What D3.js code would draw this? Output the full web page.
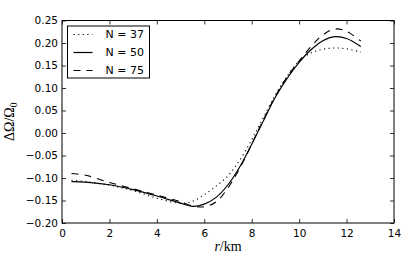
<!DOCTYPE html>
<html>
<head>
<meta charset="utf-8">
<script src="https://cdn.jsdelivr.net/npm/d3@7"></script>
<style>
  body { margin: 0; background: #fff; }
  svg { display: block; }
</style>
</head>
<body>
<div id="grafico"></div>
<script>
// radio en km
const radios = [0.4, 1, 2, 3, 4, 5, 5.5, 6, 6.5, 7, 7.5, 8, 8.5, 9, 9.5, 10, 10.5, 11, 11.5, 12, 12.6];
const n37 = [-0.105, -0.108, -0.116, -0.128, -0.145, -0.156, -0.152, -0.137, -0.118, -0.095, -0.060, -0.015, 0.035, 0.085, 0.127, 0.160, 0.178, 0.186, 0.189, 0.187, 0.180];
const n50 = [-0.108, -0.109, -0.115, -0.126, -0.140, -0.156, -0.163, -0.158, -0.143, -0.115, -0.075, -0.025, 0.028, 0.080, 0.122, 0.157, 0.185, 0.205, 0.214, 0.210, 0.192];
const n75 = [-0.090, -0.094, -0.110, -0.124, -0.138, -0.153, -0.162, -0.164, -0.153, -0.122, -0.078, -0.025, 0.030, 0.082, 0.125, 0.160, 0.192, 0.218, 0.231, 0.226, 0.204];
const etiquetas = ["N = 37", "N = 50", "N = 75"];
const xTicks = [0, 2, 4, 6, 8, 10, 12, 14];
const yTicks = [-0.20, -0.15, -0.10, -0.05, 0.00, 0.05, 0.10, 0.15, 0.20, 0.25];

const series = [
    { nombre: etiquetas[0], valores: n37, trazo: "1.2,3.4", ancho: 1.1 },
    { nombre: etiquetas[1], valores: n50, trazo: null, ancho: 1.2 },
    { nombre: etiquetas[2], valores: n75, trazo: "7,6", ancho: 1.1 }
];

const ancho = 415, alto = 257;
const m = { top: 20.5, right: 21, bottom: 34, left: 62 };
const w = ancho - m.left - m.right;
const h = alto - m.top - m.bottom;

const svg = d3.select("#grafico").append("svg")
    .attr("width", ancho)
    .attr("height", alto);

const g = svg.append("g").attr("transform", `translate(${m.left},${m.top})`);

const x = d3.scaleLinear().domain([0, 14]).range([0, w]);
const y = d3.scaleLinear().domain([-0.20, 0.25]).range([h, 0]);

const fuente = "'DejaVu Sans', sans-serif";

function estiloEje(sel) {
    sel.select(".domain").remove();
    sel.selectAll(".tick line").attr("stroke", "#000").attr("stroke-width", 0.8);
    sel.selectAll("text").style("font-family", fuente).style("font-size", "10.5px").attr("fill", "#000");
}

g.append("g")
    .attr("transform", `translate(0,${h})`)
    .call(d3.axisBottom(x).tickValues(xTicks).tickFormat(d3.format("d")).tickSizeInner(-4).tickSizeOuter(0).tickPadding(7))
    .call(estiloEje);

g.append("g")
    .call(d3.axisTop(x).tickValues(xTicks).tickFormat("").tickSizeInner(-4).tickSizeOuter(0))
    .call(estiloEje);

g.append("g")
    .call(d3.axisLeft(y).tickValues(yTicks).tickFormat(d3.format(".2f")).tickSizeInner(-4).tickSizeOuter(0).tickPadding(4))
    .call(estiloEje);

g.append("g")
    .attr("transform", `translate(${w},0)`)
    .call(d3.axisRight(y).tickValues(yTicks).tickFormat("").tickSizeInner(-4).tickSizeOuter(0))
    .call(estiloEje);

g.append("rect")
    .attr("width", w)
    .attr("height", h)
    .attr("fill", "none")
    .attr("stroke", "#000")
    .attr("stroke-width", 1);

const linea = d3.line()
    .x((d, i) => x(radios[i]))
    .y(d => y(d))
    .curve(d3.curveCatmullRom);

series.forEach(s => {
    g.append("path")
        .attr("d", linea(s.valores))
        .attr("fill", "none")
        .attr("stroke", "#000")
        .attr("stroke-width", s.ancho)
        .attr("stroke-dasharray", s.trazo);
});

// leyenda
const ley = g.append("g").attr("transform", "translate(5.5,5.5)");
ley.append("rect")
    .attr("width", 82)
    .attr("height", 52)
    .attr("fill", "#fff")
    .attr("stroke", "#000")
    .attr("stroke-width", 1);
series.forEach((s, i) => {
    const yy = 8.5 + i * 18;
    ley.append("line")
        .attr("x1", 6).attr("x2", 25)
        .attr("y1", yy).attr("y2", yy)
        .attr("stroke", "#000")
        .attr("stroke-width", s.ancho)
        .attr("stroke-dasharray", s.trazo);
    ley.append("text")
        .attr("x", 38)
        .attr("y", yy)
        .attr("dy", "0.36em")
        .style("font-family", fuente)
        .style("font-size", "11px")
        .text(s.nombre);
});

// etiquetas de ejes
svg.append("text")
    .attr("x", m.left + w / 2)
    .attr("y", 251)
    .attr("text-anchor", "middle")
    .style("font-family", "'Liberation Serif', serif")
    .style("font-size", "14px")
    .html("<tspan font-style='italic'>r</tspan>/km");

svg.append("text")
    .attr("transform", `translate(14,${m.top + h / 2}) rotate(-90)`)
    .attr("text-anchor", "middle")
    .style("font-family", "'Liberation Serif', serif")
    .style("font-size", "14px")
    .html("ΔΩ/Ω<tspan font-size='9.5px' dy='3'>0</tspan>");
</script>
</body>
</html>
